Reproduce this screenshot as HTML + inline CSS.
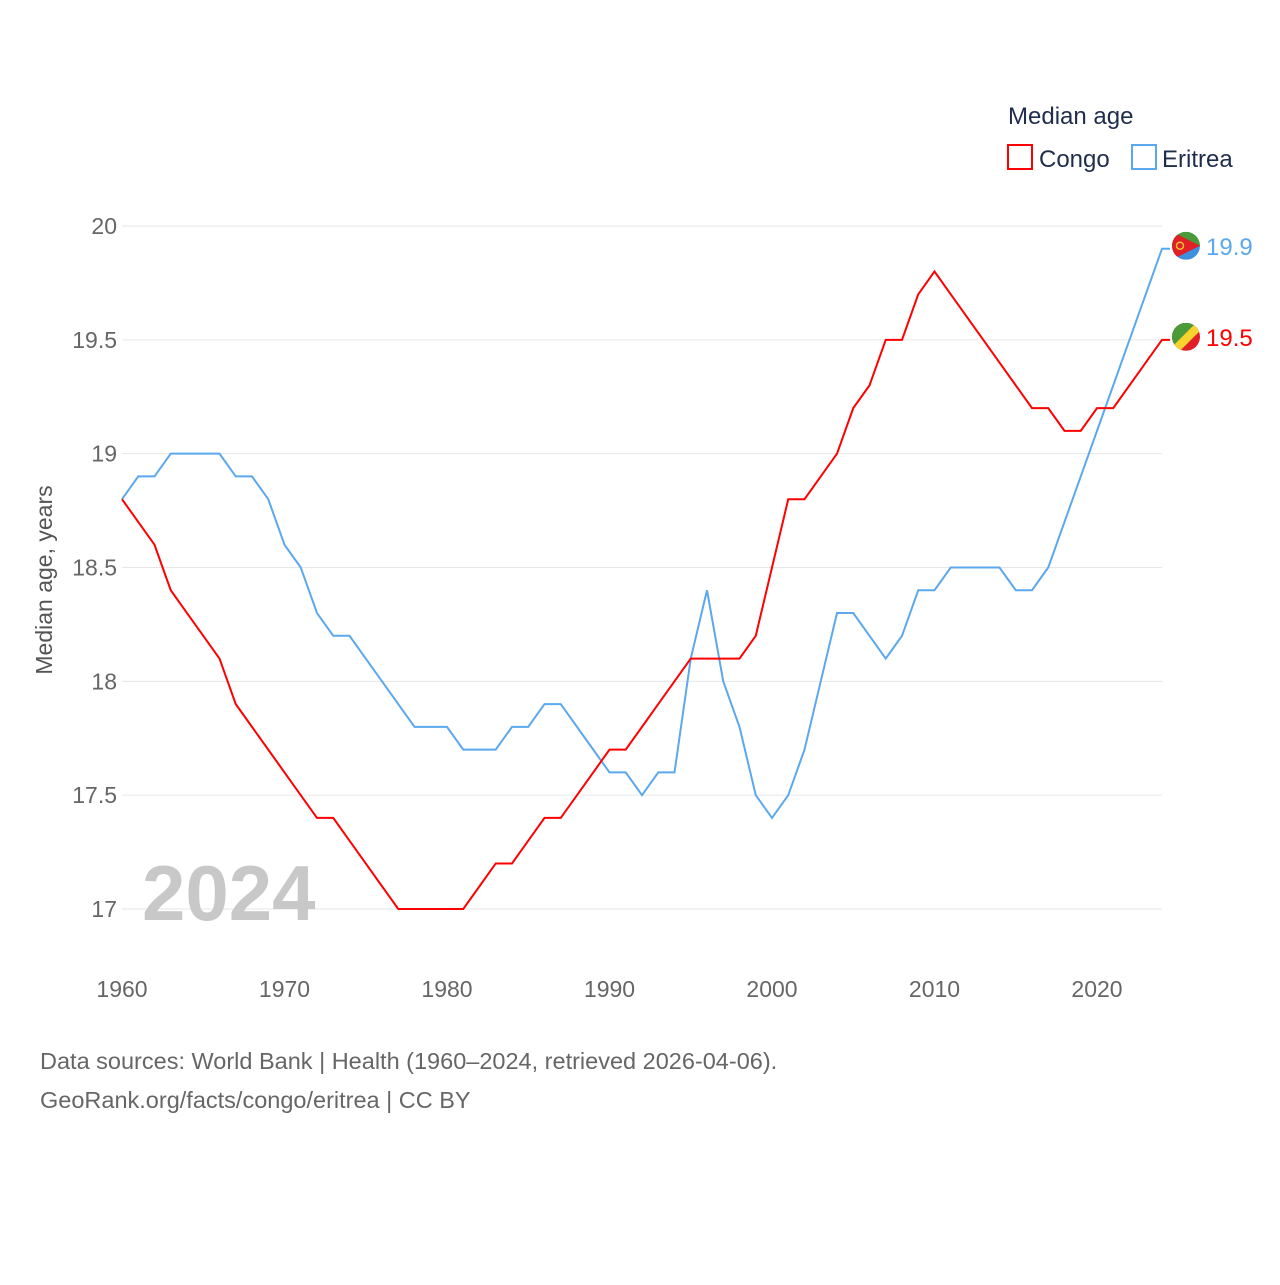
<!DOCTYPE html>
<html><head><meta charset="utf-8"><style>
body{margin:0;background:#fff;font-family:"Liberation Sans",sans-serif}
svg text{font-family:"Liberation Sans",sans-serif}
</style></head><body>
<svg id="chart" width="1280" height="1280">
<defs><clipPath id="flagclip"><circle id="fc" cx="1186" cy="0" r="14"/></clipPath></defs>
<g id="grid"></g><g id="axes"></g><g id="series"></g>
<text x="142" y="920" font-size="78" font-weight="bold" fill="#c8c8c8">2024</text>
<text transform="translate(52,580) rotate(-90)" text-anchor="middle" font-size="23" fill="#555">Median age, years</text>
<text x="1008" y="124" font-size="24" fill="#1f2d4d">Median age</text>
<g><rect x="1008" y="145" width="24" height="24" fill="none" stroke="#f00" stroke-width="2"/><text x="1039" y="167" font-size="24" fill="#1f2d4d">Congo</text></g>
<g><rect x="1132" y="145" width="24" height="24" fill="none" stroke="#5ba8ee" stroke-width="2"/><text x="1162" y="167" font-size="24" fill="#1f2d4d">Eritrea</text></g>
<text x="40" y="1069" font-size="23.5" fill="#666">Data sources: World Bank | Health (1960–2024, retrieved 2026-04-06).</text>
<text x="40" y="1108" font-size="23.5" fill="#666">GeoRank.org/facts/congo/eritrea | CC BY</text>
</svg>
<script>
const years=[];for(let y=1960;y<=2024;y++)years.push(y);
const congo=[18.8,18.7,18.6,18.4,18.3,18.2,18.1,17.9,17.8,17.7,17.6,17.5,17.4,17.4,17.3,17.2,17.1,17.0,17.0,17.0,17.0,17.0,17.1,17.2,17.2,17.3,17.4,17.4,17.5,17.6,17.7,17.7,17.8,17.9,18.0,18.1,18.1,18.1,18.1,18.2,18.5,18.8,18.8,18.9,19.0,19.2,19.3,19.5,19.5,19.7,19.8,19.7,19.6,19.5,19.4,19.3,19.2,19.2,19.1,19.1,19.2,19.2,19.3,19.4,19.5];
const eritrea=[18.8,18.9,18.9,19.0,19.0,19.0,19.0,18.9,18.9,18.8,18.6,18.5,18.3,18.2,18.2,18.1,18.0,17.9,17.8,17.8,17.8,17.7,17.7,17.7,17.8,17.8,17.9,17.9,17.8,17.7,17.6,17.6,17.5,17.6,17.6,18.1,18.4,18.0,17.8,17.5,17.4,17.5,17.7,18.0,18.3,18.3,18.2,18.1,18.2,18.4,18.4,18.5,18.5,18.5,18.5,18.4,18.4,18.5,18.7,18.9,19.1,19.3,19.5,19.7,19.9];
const yTicks=[17,17.5,18,18.5,19,19.5,20];
const yTickLabels=["17","17.5","18","18.5","19","19.5","20"];
const xTicks=[1960,1970,1980,1990,2000,2010,2020];
const NS="http://www.w3.org/2000/svg";
const X=v=>122+(v-1960)*16.25;
const Y=v=>909-(v-17)*227.67;
function mk(t,a,p){const e=document.createElementNS(NS,t);for(const k in a)e.setAttribute(k,a[k]);p.appendChild(e);return e;}
const grid=document.getElementById('grid'),axes=document.getElementById('axes'),ser=document.getElementById('series');
yTicks.forEach((v,i)=>{
 const l=mk('line',{x1:122,x2:1162,y1:Y(v),y2:Y(v),stroke:'#e6e6e6','stroke-width':1},grid);
 
 
 const t=mk('text',{x:117,y:Y(v)+8,'text-anchor':'end','font-size':23,fill:'#666'},axes);t.textContent=yTickLabels[i];
 
 
});
xTicks.forEach(v=>{
 const t=mk('text',{x:X(v),y:997,'text-anchor':'middle','font-size':23,fill:'#666'},axes);t.textContent=v;
 
 
});
function line(data,col,name){
 let d=data.map((v,i)=>(i?'L':'M')+X(years[i])+','+Y(v)).join('');
 d+='L1170,'+Y(data[data.length-1]);
 const p=mk('path',{d:d,fill:'none',stroke:col,'stroke-width':2},ser);
 
 
}
line(eritrea,'#5ba8ee','eritrea-line');
line(congo,'#f00','congo-line');
function endLabel(data,col,name,flag){
 const v=data[data.length-1],y=Y(v)-3;
 const g=mk('g',{},ser);
 
 
 const cp=mk('clipPath',{id:'clip-'+flag},g);
 mk('circle',{cx:1186,cy:y,r:14},cp);
 const f=mk('g',{'clip-path':'url(#clip-'+flag+')'},g);
 if(flag==='er'){
  mk('rect',{x:1172,y:y-14,width:28,height:14,fill:'#4a9a3a'},f);
  mk('rect',{x:1172,y:y,width:28,height:14,fill:'#3f8fe0'},f);
  mk('path',{d:`M1172,${y-14} L1200,${y} L1172,${y+14} Z`,fill:'#e01f26'},f);
  mk('circle',{cx:1180,cy:y,r:3.5,fill:'none',stroke:'#f4c430','stroke-width':1.5},f);
 }else{
  mk('rect',{x:1172,y:y-14,width:28,height:28,fill:'#e01f26'},f);
  mk('path',{d:`M1172,${y-14} L1196,${y-14} L1172,${y+10} Z`,fill:'#4a9a3a'},f);
  mk('path',{d:`M1196,${y-14} L1202,${y-14} L1202,${y-8} L1176,${y+18} L1170,${y+18} L1170,${y+12} Z`,fill:'#f6d32d'},f);
 }
 const t=mk('text',{x:1206,y:y+9,'font-size':24,fill:col},g);t.textContent=v.toFixed(1);
}
endLabel(eritrea,'#5ba8ee','eritrea-end-label','er');
endLabel(congo,'#f00','congo-end-label','cg');
</script>
</body></html>
